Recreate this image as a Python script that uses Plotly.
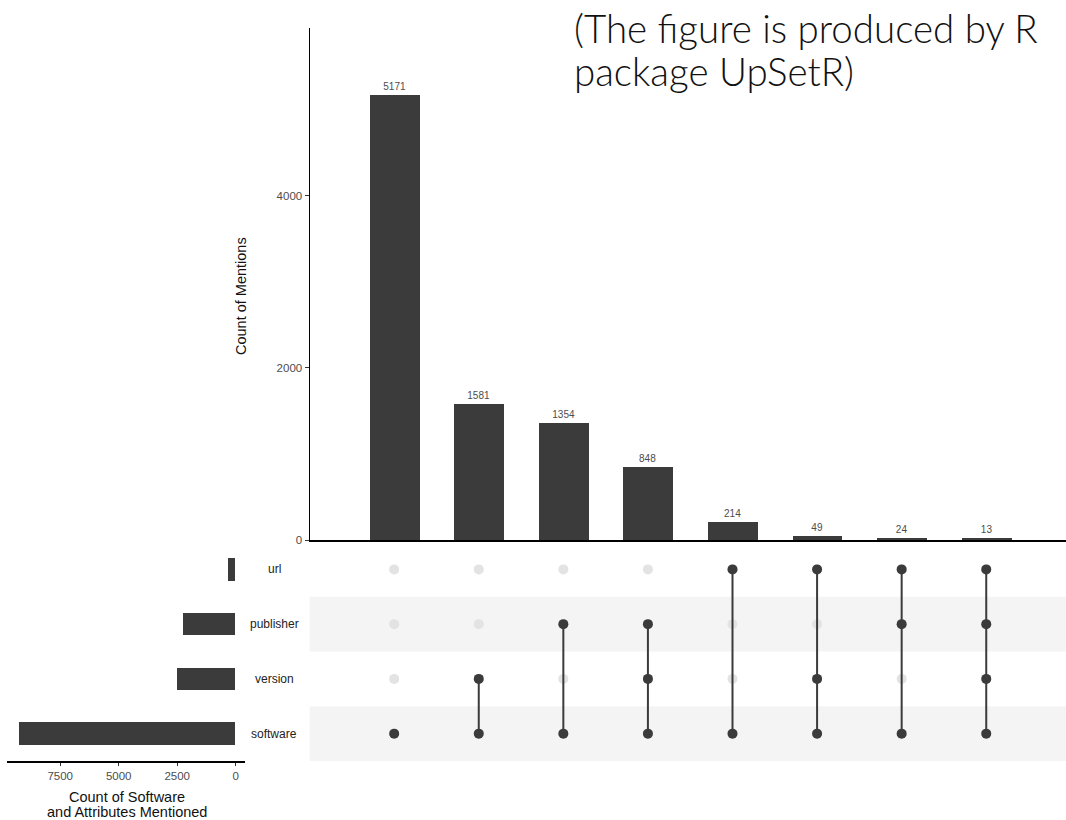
import plotly.graph_objects as go

# ---------------- data ----------------
set_names = ["software", "version", "publisher", "url"]          # bottom -> top
set_sizes = [9254, 2491, 2239, 300]
intersection_counts = [5171, 1581, 1354, 848, 214, 49, 24, 13]
intersection_members = [
    ["software"],
    ["version", "software"],
    ["publisher", "software"],
    ["publisher", "version", "software"],
    ["url", "software"],
    ["url", "version", "software"],
    ["url", "publisher", "software"],
    ["url", "publisher", "version", "software"],
]
top_ticks = [0, 2000, 4000]
left_ticks = [0, 2500, 5000, 7500]
note_lines = ["(The figure is produced by R", "package UpSetR)"]
left_title_lines = ["Count of Software", "and Attributes Mentioned"]

# ---------------- style ----------------
W, H = 1066, 820
DARK = "#3b3b3b"
LIGHT = "#e3e3e3"
STRIPE = "#f4f4f4"
TICKC = "#4d4d4d"
FONT = "Liberation Sans, Arial, sans-serif"

def px_x(p):
    return p / W

def px_y(p):
    return (H - p) / H

xdom = [px_x(309.6), 1.0]
top_ydom = [px_y(540), px_y(28)]
mat_ydom = [px_y(761), px_y(542)]
left_xdom = [px_x(7.3), px_x(245)]

cols = list(range(1, len(intersection_counts) + 1))
row_idx = {s: i for i, s in enumerate(set_names)}

fig = go.Figure()

# intersection bars
fig.add_trace(go.Bar(
    x=cols, y=intersection_counts, width=0.59,
    marker=dict(color=DARK, line=dict(width=0)),
    text=[str(v) for v in intersection_counts], textposition="outside",
    textfont=dict(size=10, color=TICKC, family=FONT),
    cliponaxis=False, xaxis="x", yaxis="y", showlegend=False, hoverinfo="x+y",
))

# matrix: light background dots
bx, by = [], []
for c in cols:
    for s in set_names:
        bx.append(c)
        by.append(row_idx[s])
fig.add_trace(go.Scatter(
    x=bx, y=by, mode="markers",
    marker=dict(size=10, color=LIGHT),
    xaxis="x2", yaxis="y2", showlegend=False, hoverinfo="skip",
))

# matrix: connecting lines and dark dots
for c, members in zip(cols, intersection_members):
    ys = sorted(row_idx[m] for m in members)
    if len(ys) > 1:
        fig.add_trace(go.Scatter(
            x=[c, c], y=[ys[0], ys[-1]], mode="lines",
            line=dict(color=DARK, width=2),
            xaxis="x2", yaxis="y2", showlegend=False, hoverinfo="skip",
        ))
    fig.add_trace(go.Scatter(
        x=[c] * len(ys), y=ys, mode="markers",
        marker=dict(size=10, color=DARK),
        xaxis="x2", yaxis="y2", showlegend=False, hoverinfo="skip",
    ))

# set size bars
fig.add_trace(go.Bar(
    x=set_sizes, y=list(range(len(set_names))), orientation="h", width=0.41,
    marker=dict(color=DARK, line=dict(width=0)),
    xaxis="x3", yaxis="y3", showlegend=False,
))

shapes = []
for i in range(len(set_names)):
    if i % 2 == 0:
        shapes.append(dict(
            type="rect", xref="x2 domain", yref="y2",
            x0=0, x1=1, y0=i - 0.5, y1=i + 0.5,
            fillcolor=STRIPE, line=dict(width=0), layer="below",
        ))

annotations = []
for s in set_names:
    annotations.append(dict(
        x=px_x(274), y=row_idx[s], xref="paper", yref="y2",
        text=s, showarrow=False, xanchor="center", yanchor="middle",
        font=dict(size=12, color="#222222", family=FONT),
    ))
annotations.append(dict(
    x=px_x(241), y=px_y(296), xref="paper", yref="paper",
    text="Count of Mentions", textangle=-90, showarrow=False,
    xanchor="center", yanchor="middle",
    font=dict(size=14.5, color="#111111", family=FONT),
))
for line, yc in zip(left_title_lines, [796.5, 811.5]):
    annotations.append(dict(
        x=px_x(127), y=px_y(yc), xref="paper", yref="paper",
        text=line, showarrow=False, xanchor="center", yanchor="middle",
        font=dict(size=14.5, color="#111111", family=FONT),
    ))
for line, yc in zip(note_lines, [28, 71]):
    annotations.append(dict(
        x=px_x(572), y=px_y(yc), xref="paper", yref="paper",
        text=line, showarrow=False,
        xanchor="left", yanchor="middle", align="left",
        font=dict(size=38.5, color="#111111", family="Lato", weight=300),
    ))

fig.update_layout(
    width=W, height=H,
    margin=dict(l=0, r=0, t=0, b=0, autoexpand=False),
    paper_bgcolor="white", plot_bgcolor="rgba(0,0,0,0)",
    bargap=0,
    xaxis=dict(domain=xdom, range=[0, 8.943], showticklabels=False, ticks="",
               showgrid=False, zeroline=False, showline=True, linecolor="black",
               linewidth=1.5, anchor="y", automargin=False),
    yaxis=dict(domain=top_ydom, range=[0, 5950], tickvals=top_ticks,
               ticks="outside", ticklen=4, tickcolor="#333333",
               tickfont=dict(size=11.5, color=TICKC, family=FONT),
               showgrid=False, zeroline=False, showline=True, linecolor="black",
               linewidth=1.2, anchor="x", automargin=False),
    xaxis2=dict(domain=xdom, range=[0, 8.943], visible=False, anchor="y2",
                automargin=False),
    yaxis2=dict(domain=mat_ydom, range=[-0.5, 3.5], visible=False, anchor="x2",
                automargin=False),
    xaxis3=dict(domain=left_xdom, range=[9761, -397], tickvals=left_ticks,
                ticks="outside", ticklen=3, tickcolor="#333333",
                tickfont=dict(size=11.5, color=TICKC, family=FONT),
                showgrid=False, zeroline=False, showline=True, linecolor="black",
                linewidth=1.5, anchor="y3", automargin=False),
    yaxis3=dict(domain=mat_ydom, range=[-0.5, 3.5], visible=False, anchor="x3",
                automargin=False),
    shapes=shapes,
    annotations=annotations,
)

fig.write_html("out.html")
